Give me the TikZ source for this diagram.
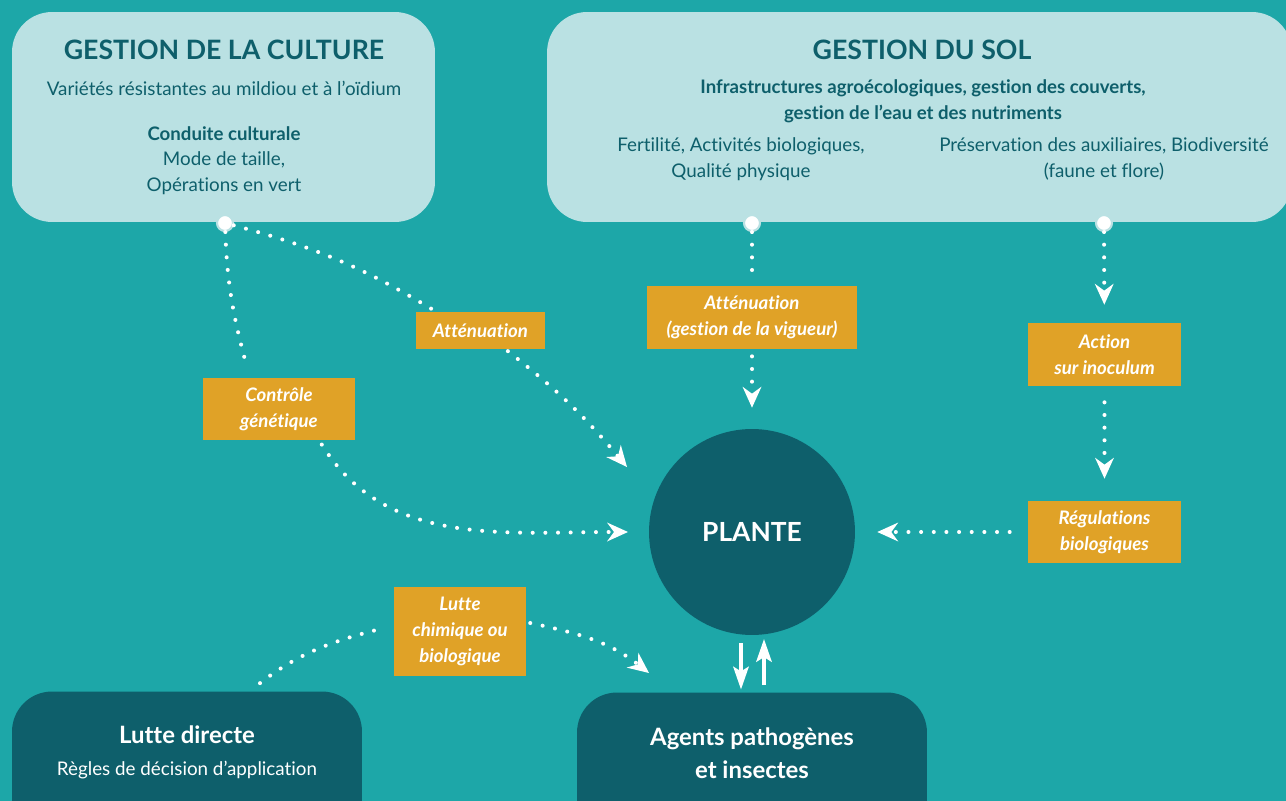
\documentclass[tikz,border=0pt]{standalone}
\usepackage{fontspec}
\setmainfont{Lato}[Ligatures=NoCommon]
\usetikzlibrary{arrows.meta}

\definecolor{bgteal}{RGB}{29,167,168}
\definecolor{panelblue}{RGB}{186,225,227}
\definecolor{darkteal}{RGB}{14,95,107}
\definecolor{ochre}{RGB}{224,162,39}

\begin{document}
\begin{tikzpicture}[
    x=0.02cm, y=0.02cm,
    panel/.style={rectangle, rounded corners=0.8cm, fill=panelblue, minimum height=4.2cm},
    darkpanel/.style={rectangle, rounded corners=0.8cm, fill=darkteal, minimum width=7cm, minimum height=3.2cm},
    tag/.style={rectangle, fill=ochre, text=white, inner sep=0pt, align=center, font=\bfseries\itshape\fontsize{10.6}{14.7}\selectfont},
    knob/.style={circle, fill=white, draw=panelblue, line width=1.2pt, minimum size=0.32cm, inner sep=0pt},
    headtext/.style={text=darkteal, font=\bfseries\fontsize{15.2}{17}\selectfont},
    bodytext/.style={text=darkteal, align=center, font=\fontsize{10.7}{14.7}\selectfont},
    boldtext/.style={text=darkteal, align=center, font=\bfseries\fontsize{10.6}{14.7}\selectfont},
    whitehead/.style={text=white, font=\bfseries\fontsize{13.6}{18.5}\selectfont, align=center},
    dotlink/.style={white, line width=2.3pt, line cap=round, dash pattern=on 0pt off 7.2pt},
    dotarrow/.style={dotlink, -{Stealth[length=0.42cm, width=0.38cm, inset=0.14cm, line width=0pt]}},
    flow/.style={white, line width=1.8pt, -{Stealth[length=0.46cm, width=0.32cm, inset=0.1cm, line width=0pt]}}
]
    \useasboundingbox (0,0) rectangle (1286,-801);
    \fill[bgteal] (0,0) rectangle (1286,-801);

    % Gestion de la culture
    \node[panel, minimum width=8.46cm] (culture) at (223.5,-117) {};
    \node[headtext] (cultTitle) at (224,-50) {GESTION DE LA CULTURE};
    \node[bodytext] (cultVar) at (224,-88) {Variétés résistantes au mildiou et à l’oïdium};
    \node[boldtext] (cultCond) at (224,-134) {Conduite culturale};
    \node[bodytext] (cultMode) at (224,-173) {Mode de taille,\\Opérations en vert};

    % Gestion du sol
    \node[panel, minimum width=14.9cm] (sol) at (919.5,-117) {};
    \node[headtext] (solTitle) at (922,-50) {GESTION DU SOL};
    \node[boldtext] (solInfra) at (923,-101) {Infrastructures agroécologiques, gestion des couverts,\\gestion de l’eau et des nutriments};
    \node[bodytext] (solFert) at (741,-159) {Fertilité, Activités biologiques,\\Qualité physique};
    \node[bodytext] (solPres) at (1104,-159) {Préservation des auxiliaires, Biodiversité\\(faune et flore)};

    % Points de depart
    \node[knob] (dcult) at (225,-223) {};
    \node[knob] (dsol1) at (752,-223) {};
    \node[knob] (dsol2) at (1104,-223) {};

    % Plante et bas
    \node[circle, fill=darkteal, minimum size=4.12cm, inner sep=0pt, whitehead, font=\bfseries\fontsize{15}{18}\selectfont] (plante) at (752,-532) {PLANTE};
    \node[darkpanel] (ldir) at (187,-771.5) {};
    \node[whitehead] (ldirTitle) at (187,-735) {Lutte directe};
    \node[text=white, font=\fontsize{10.7}{14.7}\selectfont] (ldirRule) at (187,-770) {Règles de décision d’application};
    \node[darkpanel] (agents) at (752,-772.5) {};
    \node[whitehead] (agentsTitle) at (752,-753) {Agents pathogènes\\et insectes};

    % Etiquettes
    \node[tag, minimum width=3.04cm, minimum height=1.24cm] (ctrl) at (279,-409) {Contrôle\\génétique};
    \node[tag, minimum width=2.58cm, minimum height=0.74cm] (att1) at (480.5,-330.5) {Atténuation};
    \node[tag, minimum width=4.22cm, minimum height=1.26cm] (att2) at (752,-317.5) {Atténuation\\(gestion de la vigueur)};
    \node[tag, minimum width=3.06cm, minimum height=1.26cm] (inoc) at (1104.5,-354.5) {Action\\sur inoculum};
    \node[tag, minimum width=3.06cm, minimum height=1.24cm] (regul) at (1104.5,-532) {Régulations\\biologiques};
    \node[tag, minimum width=2.64cm, minimum height=1.78cm] (lutte) at (460,-631.5) {Lutte\\chimique ou\\biologique};

    \coordinate (tipCtrl) at (628,-532);
    \coordinate (tipAtt) at (627,-467);
    \coordinate (tipLutte) at (649,-673);

    % Liaisons
    \draw[dotlink, shorten >=0.2cm] (dcult) to[out=-88, in=105] (ctrl.133);
    \draw[dotarrow, shorten <=0.1cm] (ctrl.-38) to[out=-58, in=180] (tipCtrl);
    \draw[dotlink, shorten >=0.08cm] (dcult) to[bend left=8] (att1.157);
    \draw[dotarrow, shorten <=0.06cm] (att1.-37) to[out=-38, in=130] (tipAtt);
    \draw[dotlink, shorten >=0.16cm] (dsol1) -- (att2);
    \draw[dotarrow, shorten <=0.14cm, shorten >=0.42cm] (att2) -- (plante);
    \draw[dotarrow, shorten >=0.36cm] (dsol2) -- (inoc);
    \draw[dotarrow, shorten <=0.32cm, shorten >=0.44cm] (inoc) -- (regul);
    \draw[dotarrow, shorten <=0.36cm, shorten >=0.44cm] (regul) -- (plante);
    \draw[dotlink, shorten <=0.26cm, shorten >=0.26cm] (ldir.52) to[out=38, in=194] (lutte.175);
    \draw[dotarrow, shorten <=0.08cm] (lutte.8) to[out=-12, in=142] (tipLutte);
    \draw[flow] (plante.south) ++(-11,-8) -- ++(0,-46);
    \draw[flow] (agents.north) ++(12,7) -- ++(0,46);
\end{tikzpicture}
\end{document}
